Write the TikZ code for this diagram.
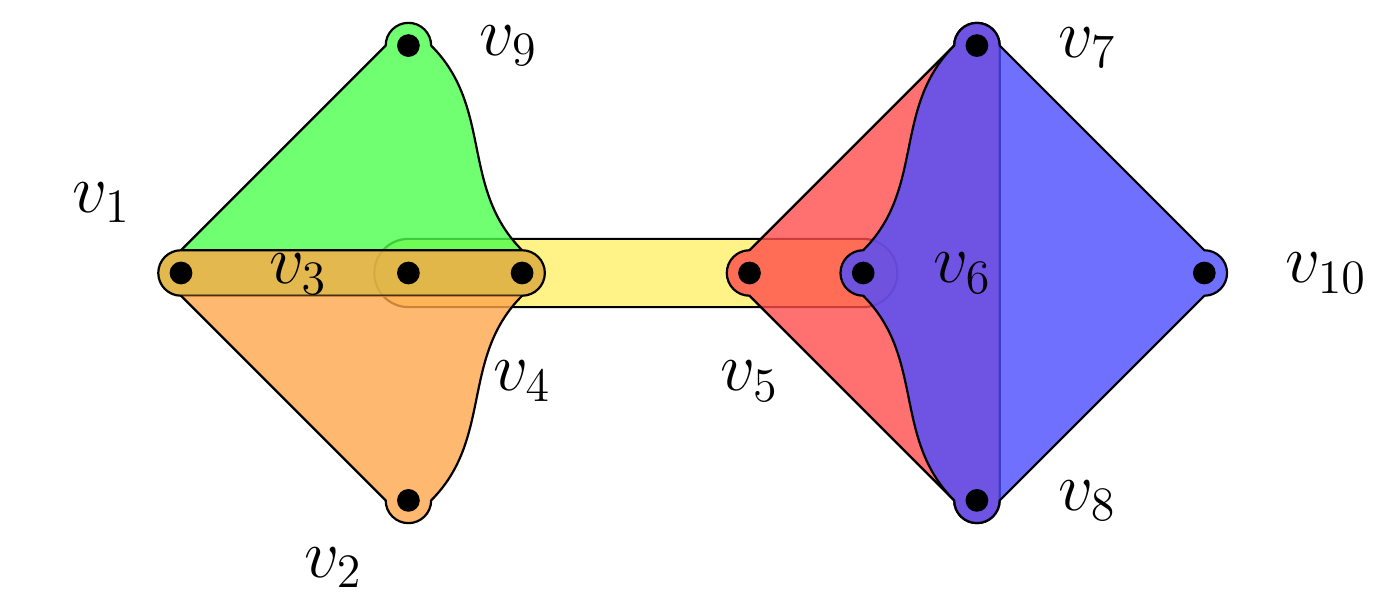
\documentclass[tikz,border=0pt]{standalone}
\usetikzlibrary{calc}
\definecolor{goldband}{RGB}{224,180,70}
\definecolor{yellowband}{RGB}{255,240,105}
\tikzset{
  vtx/.style={circle,minimum size=0.4cm,inner sep=0pt,outer sep=0pt},
  edgeline/.style={draw=black,line width=0.55pt,line join=round},
  greenedge/.style={edgeline,fill=green!70,fill opacity=0.8},
  orangeedge/.style={edgeline,fill=orange!70,fill opacity=0.8},
  goldedge/.style={edgeline,fill=goldband,fill opacity=0.95},
  yellowedge/.style={edgeline,fill=yellowband,fill opacity=0.8},
  rededge/.style={edgeline,fill=red!70,fill opacity=0.8},
  blueedge/.style={edgeline,fill=blue!70,fill opacity=0.8},
  lbl/.style={font=\LARGE,inner sep=0pt}
}
\begin{document}
\begin{tikzpicture}
\useasboundingbox (-1.592,-2.823) rectangle (10.721,2.401);
% vertices
\node[vtx] (v1) at (0,0) {};
\node[vtx] (v2) at (2,-2) {};
\node[vtx] (v3) at (2,0) {};
\node[vtx] (v4) at (3,0) {};
\node[vtx] (v5) at (5,0) {};
\node[vtx] (v6) at (6,0) {};
\node[vtx] (v7) at (7,2) {};
\node[vtx] (v8) at (7,-2) {};
\node[vtx] (v9) at (2,2) {};
\node[vtx] (v10) at (9,0) {};
% yellow hyperedge v3--v6
\path[yellowedge] ($(v3)+(0,0.3)$) -- ($(v6)+(0,0.3)$) arc[start angle=90,end angle=-90,radius=0.3]
  -- ($(v3)+(0,-0.3)$) arc[start angle=-90,end angle=-270,radius=0.3] -- cycle;
% green hyperedge v1,v9,v4
\path[greenedge] (v1.north) -- (v9.west) arc[start angle=180,end angle=0,radius=0.2]
  to[out=-45,in=135] (v4.north) -- cycle;
% gold hyperedge v1,v3,v4
\path[goldedge] (v1.north) -- (v4.north) arc[start angle=90,end angle=-90,radius=0.2]
  -- (v1.south) arc[start angle=-90,end angle=-270,radius=0.2] -- cycle;
% orange hyperedge v1,v2,v4
\path[orangeedge] (v1.south) -- (v2.west) arc[start angle=180,end angle=360,radius=0.2]
  to[out=45,in=-135] (v4.south);
% red hyperedge v5,v7,v8
\path[rededge] (v5.north) -- (v7.west) arc[start angle=180,end angle=0,radius=0.2]
  -- (v8.east) arc[start angle=0,end angle=-180,radius=0.2]
  -- (v5.south) arc[start angle=-90,end angle=-270,radius=0.2] -- cycle;
% blue hyperedge v6,v7,v10,v8
\path[blueedge] (v6.north) to[out=45,in=-135] (v7.west) arc[start angle=180,end angle=0,radius=0.2]
  -- (v10.north) arc[start angle=90,end angle=-90,radius=0.2]
  -- (v8.east) arc[start angle=0,end angle=-180,radius=0.2]
  to[out=135,in=-45] (v6.south) arc[start angle=-90,end angle=-270,radius=0.2] -- cycle;
% dots
\foreach \v in {v1,v2,v3,v4,v5,v6,v7,v8,v9,v10} \fill (\v) circle (0.1);
% labels
\node[lbl] (l1) at (-0.70,0.62) {$v_1$};
\node[lbl] (l2) at (1.34,-2.59) {$v_2$};
\node[lbl] (l3) at (1.03,-0.01) {$v_3$};
\node[lbl] (l4) at (3.0,-0.95) {$v_4$};
\node[lbl] (l5) at (5.0,-0.95) {$v_5$};
\node[lbl] (l6) at (6.87,0) {$v_6$};
\node[lbl] (l7) at (7.97,1.98) {$v_7$};
\node[lbl] (l8) at (7.97,-2.0) {$v_8$};
\node[lbl] (l9) at (2.88,2.0) {$v_9$};
\node[lbl] (l10) at (10.07,0) {$v_{10}$};
\end{tikzpicture}
\end{document}
